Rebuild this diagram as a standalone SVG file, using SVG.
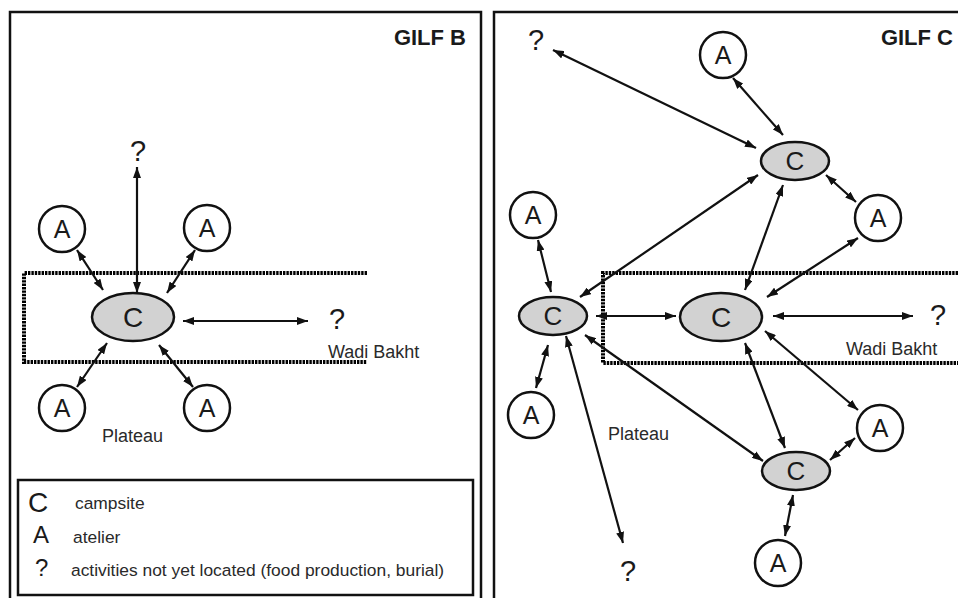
<svg xmlns="http://www.w3.org/2000/svg" width="958" height="598" viewBox="0 0 958 598">
  <defs>
    <marker id="ah" viewBox="0 0 11 8" refX="11" refY="4" markerWidth="11" markerHeight="8" markerUnits="userSpaceOnUse" orient="auto-start-reverse">
      <path d="M0,0 L11,4 L0,8 z" fill="#111"/>
    </marker>
    <style>
      .panel { fill: none; stroke: #111; stroke-width: 2.5; }
      .zone { fill: none; stroke: #000; stroke-width: 4; stroke-dasharray: 2.4 1; }
      .atelier { fill: #fff; stroke: #111; stroke-width: 2.5; }
      .camp { fill: #d2d2d2; stroke: #111; stroke-width: 2.5; }
      .conn path { fill: none; stroke: #111; stroke-width: 2.2; marker-start: url(#ah); marker-end: url(#ah); }
      text { font-family: "Liberation Sans", Arial, sans-serif; fill: #1a1a1a; }
      .title { font-size: 22px; font-weight: bold; text-anchor: end; }
      .a { font-size: 25px; text-anchor: middle; }
      .c { font-size: 28px; text-anchor: middle; }
      .cs { font-size: 26px; text-anchor: middle; }
      .q { font-size: 29px; text-anchor: middle; }
      .lbl { font-size: 18px; fill: #2a2a2a; }
      .leg { font-size: 17.4px; fill: #2a2a2a; }
    </style>
  </defs>
  <rect width="958" height="598" fill="#fff"/>

  <!-- panel frames -->
  <rect class="panel" x="10" y="12" width="471" height="600"/>
  <rect class="panel" x="494" y="12" width="480" height="600"/>

  <!-- Wadi Bakht zones -->
  <path class="zone" d="M367,273 H24 V362 H367"/>
  <path class="zone" d="M958,273 H603 V363 H958"/>

  <text class="title" x="466" y="45">GILF B</text>
  <text class="title" x="953" y="45">GILF C</text>

  <text class="lbl" x="328" y="358">Wadi Bakht</text>
  <text class="lbl" x="102" y="442">Plateau</text>
  <text class="lbl" x="846" y="355">Wadi Bakht</text>
  <text class="lbl" x="608" y="440">Plateau</text>

  <!-- connectors -->
  <g id="connectors" class="conn">
    <!-- Gilf B -->
    <path d="M137,293 L137,167"/>
    <path d="M77,250 L103,290"/>
    <path d="M195,250 L167,293"/>
    <path d="M183,321 L308,321"/>
    <path d="M107,343 L77,387"/>
    <path d="M159,345 L193,387"/>
    <!-- Gilf C -->
    <path d="M553,50 L756,148"/>
    <path d="M733,78 L783,135"/>
    <path d="M826,175 L856,202"/>
    <path d="M580,297 L758,175"/>
    <path d="M783,185 L745,290"/>
    <path d="M858,238 L767,297"/>
    <path d="M538,240 L551,292"/>
    <path d="M596,316 L676,316"/>
    <path d="M773,316 L913,316"/>
    <path d="M548,345 L536,388"/>
    <path d="M566,336 L623,543"/>
    <path d="M585,335 L763,461"/>
    <path d="M745,343 L785,448"/>
    <path d="M765,331 L858,410"/>
    <path d="M830,460 L855,438"/>
    <path d="M793,495 L785,536"/>
  </g>

  <!-- Gilf B nodes -->
  <g id="b-camp">
    <ellipse class="camp" cx="133" cy="317" rx="41" ry="24"/>
    <text class="c" x="133" y="327">C</text>
  </g>
  <g id="b-q-top"><text class="q" x="138" y="161">?</text></g>
  <g id="b-q-right"><text class="q" x="337" y="329">?</text></g>
  <g id="b-a1"><circle class="atelier" cx="62" cy="229" r="23"/><text class="a" x="62" y="238">A</text></g>
  <g id="b-a2"><circle class="atelier" cx="207" cy="228" r="23"/><text class="a" x="207" y="237">A</text></g>
  <g id="b-a3"><circle class="atelier" cx="62" cy="408" r="23"/><text class="a" x="62" y="417">A</text></g>
  <g id="b-a4"><circle class="atelier" cx="207" cy="408" r="23"/><text class="a" x="207" y="417">A</text></g>

  <!-- legend -->
  <g id="legend">
    <rect x="18" y="480" width="455" height="115" fill="none" stroke="#111" stroke-width="2.5"/>
    <text x="28" y="512" style="font-size:28px">C</text>
    <text class="leg" x="75" y="509">campsite</text>
    <text x="33" y="543" style="font-size:24px">A</text>
    <text class="leg" x="73" y="543">atelier</text>
    <text x="35" y="576" style="font-size:24px">?</text>
    <text class="leg" x="71" y="576">activities not yet located (food production, burial)</text>
  </g>

  <!-- Gilf C nodes -->
  <g id="c-q-top"><text class="q" x="536" y="50">?</text></g>
  <g id="c-a-top"><circle class="atelier" cx="723" cy="55" r="23"/><text class="a" x="723" y="64">A</text></g>
  <g id="c-camp-top"><ellipse class="camp" cx="795" cy="161" rx="34" ry="19"/><text class="cs" x="795" y="170">C</text></g>
  <g id="c-a-right-up"><circle class="atelier" cx="878" cy="218" r="23"/><text class="a" x="878" y="227">A</text></g>
  <g id="c-a-left"><circle class="atelier" cx="533" cy="215" r="23"/><text class="a" x="533" y="224">A</text></g>
  <g id="c-camp-left"><ellipse class="camp" cx="553" cy="316" rx="34" ry="19"/><text class="cs" x="553" y="325">C</text></g>
  <g id="c-camp-mid"><ellipse class="camp" cx="721" cy="317" rx="41" ry="24"/><text class="c" x="721" y="327">C</text></g>
  <g id="c-q-right"><text class="q" x="938" y="325">?</text></g>
  <g id="c-a-left-low"><circle class="atelier" cx="531" cy="415" r="23"/><text class="a" x="531" y="424">A</text></g>
  <g id="c-a-right-low"><circle class="atelier" cx="880" cy="428" r="23"/><text class="a" x="880" y="437">A</text></g>
  <g id="c-camp-bottom"><ellipse class="camp" cx="796" cy="471" rx="34" ry="19"/><text class="cs" x="796" y="480">C</text></g>
  <g id="c-a-bottom"><circle class="atelier" cx="778" cy="563" r="23"/><text class="a" x="778" y="572">A</text></g>
  <g id="c-q-bottom"><text class="q" x="628" y="581">?</text></g>
</svg>
